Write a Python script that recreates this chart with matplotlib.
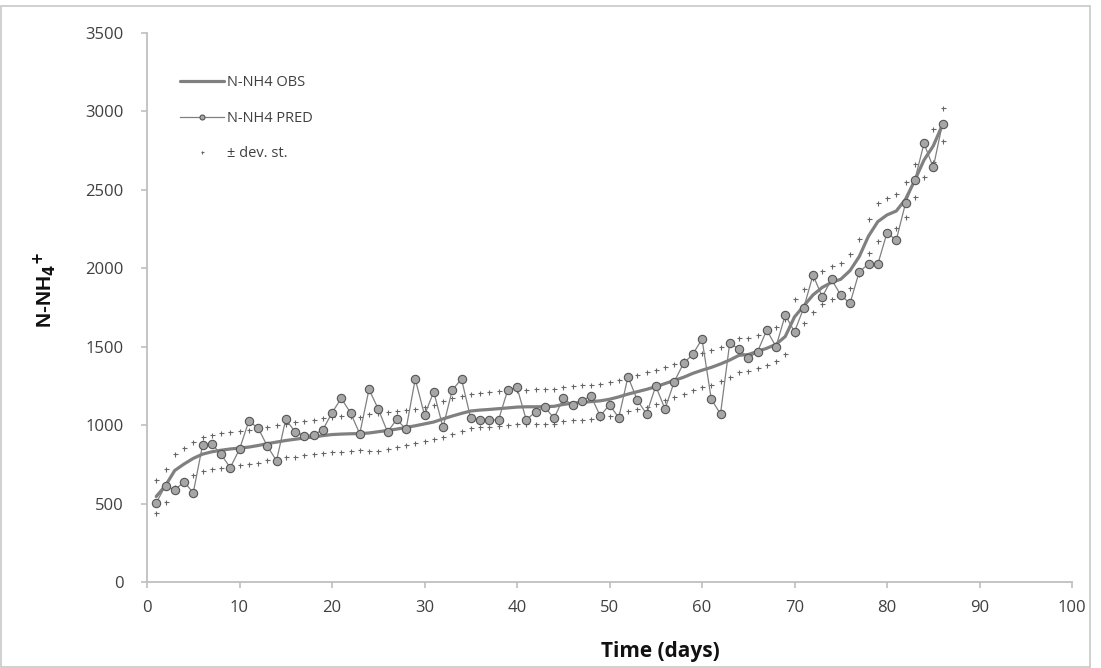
import matplotlib
matplotlib.use("Agg")
import matplotlib.pyplot as plt
from matplotlib.patches import Rectangle

# Time axis (days)
days = list(range(1, 87))

# Observed N-NH4 (smoothed curve)
obs = [545, 615, 711, 752, 788, 815, 830, 840, 848, 854,
       860, 870, 882, 892, 902, 910, 918, 925, 933, 940,
       943, 945, 946, 950, 958, 966, 975, 985, 996, 1008,
       1020, 1040, 1058, 1075, 1090, 1096, 1100, 1105, 1110, 1115,
       1117, 1117, 1118, 1120, 1132, 1140, 1145, 1150, 1155, 1165,
       1180, 1198, 1213, 1228, 1245, 1265, 1285, 1305, 1330, 1350,
       1368, 1390, 1415, 1445, 1450, 1470, 1490, 1515, 1565, 1690,
       1760, 1830, 1878, 1910, 1930, 1985, 2075, 2205, 2297, 2340,
       2365, 2440, 2560, 2690, 2780, 2915]

# Predicted N-NH4
pred = [505, 614, 586, 639, 569, 871, 881, 814, 729, 846,
        1024, 983, 867, 773, 1037, 958, 933, 939, 969, 1079,
        1171, 1079, 945, 1228, 1103, 956, 1037, 973, 1294, 1064,
        1213, 986, 1224, 1294, 1043, 1033, 1033, 1033, 1224, 1241,
        1033, 1085, 1117, 1043, 1171, 1128, 1155, 1185, 1058, 1131,
        1047, 1309, 1160, 1071, 1249, 1103, 1277, 1394, 1451, 1549,
        1166, 1071, 1525, 1483, 1426, 1468, 1606, 1500, 1702, 1595,
        1748, 1957, 1818, 1929, 1829, 1776, 1978, 2027, 2025, 2226,
        2180, 2414, 2562, 2796, 2643, 2923]

# Standard deviation of the observations
sd = [106, 108, 107, 100, 105, 108, 108, 112, 107, 109,
      108, 110, 106, 106, 107, 110, 110, 108, 112, 112,
      113, 112, 105, 118, 120, 118, 112, 110, 108, 107,
      110, 115, 112, 110, 108, 108, 110, 110, 108, 109,
      110, 112, 110, 110, 108, 110, 110, 108, 110, 108,
      108, 106, 108, 110, 108, 105, 105, 108, 108, 108,
      110, 108, 108, 108, 106, 106, 108, 108, 110, 112,
      108, 110, 106, 106, 106, 108, 110, 110, 120, 108,
      107, 110, 107, 106, 105, 105]

upper = [o + s for o, s in zip(obs, sd)]
lower = [o - s for o, s in zip(obs, sd)]

W, H = 1101, 668
fig = plt.figure(figsize=(W / 100, H / 100), dpi=100)
ax = fig.add_axes([147 / W, 86 / H, 925 / W, 549 / H])

grey_line = "#808080"
ax.plot(days, obs, color=grey_line, lw=2.3, solid_capstyle="round",
        label="N-NH4 OBS", zorder=3)
ax.plot(days, pred, color=grey_line, lw=0.9, marker="o", markersize=6,
        markerfacecolor="#a6a6a6", markeredgecolor="#555555",
        markeredgewidth=0.8, label="N-NH4 PRED", zorder=4)
ax.plot(days, upper, linestyle="none", marker="+", markersize=3.6,
        markeredgewidth=0.8, color="#666666", label="± dev. st.", zorder=2)
ax.plot(days, lower, linestyle="none", marker="+", markersize=3.6,
        markeredgewidth=0.8, color="#666666", zorder=2)

ax.set_xlim(0, 100)
ax.set_ylim(0, 3500)
ax.set_xticks(range(0, 101, 10))
ax.set_yticks(range(0, 3501, 500))

for side in ("top", "right"):
    ax.spines[side].set_visible(False)
for side in ("left", "bottom"):
    ax.spines[side].set_color("#bfbfbf")
    ax.spines[side].set_linewidth(1.3)

ax.tick_params(axis="both", direction="out", length=4, width=1.2,
               color="#bfbfbf", labelcolor="#404040")
ax.tick_params(axis="y", pad=13)
ax.tick_params(axis="x", pad=9)
for lab in ax.get_xticklabels() + ax.get_yticklabels():
    lab.set_fontfamily("Open Sans")
    lab.set_fontsize(12)

leg = ax.legend(loc="upper left", bbox_to_anchor=(180 / W, 1 - 75 / H),
                bbox_transform=fig.transFigure, frameon=False,
                borderpad=0, borderaxespad=0, handlelength=3.0,
                handletextpad=0.2, labelspacing=1.42, markerscale=0.6,
                prop={"family": "Open Sans", "size": 10.5})
for t in leg.get_texts():
    t.set_color("#404040")

fig.text(660 / W, 1 - 652 / H, "Time (days)", ha="center", va="center",
         fontsize=15, fontweight="bold", family="Open Sans", color="#111111")
fig.text(45 / W, 1 - 290 / H, r"N-NH$_\mathbf{4}$$^\mathbf{+}$", ha="center",
         va="center", rotation=90, fontsize=15, fontweight="bold",
         family="Liberation Sans", color="#111111")

fig.patches.append(Rectangle((1 / W, 1 / H), 1089 / W, 661 / H,
                             transform=fig.transFigure, fill=False,
                             edgecolor="#c8c8c8", lw=1.2))

fig.savefig("out.png", dpi=100)
